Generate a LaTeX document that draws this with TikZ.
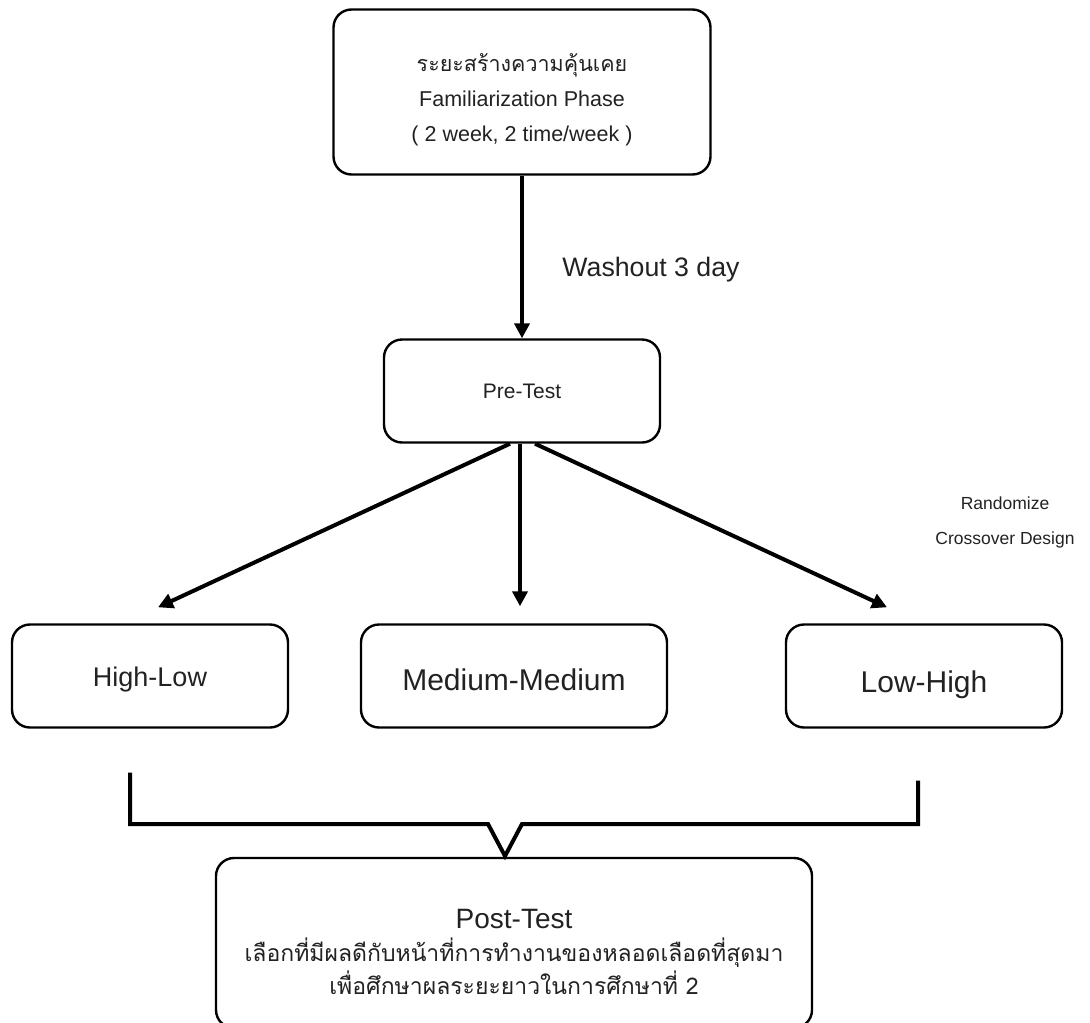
\documentclass[tikz,border=0pt]{standalone}
\usepackage{fontspec}
\setmainfont{Liberation Sans}
\newfontfamily\thaifont[Script=Thai]{Loma}
\usetikzlibrary{arrows.meta, positioning}
\definecolor{inkgray}{HTML}{222222}
\tikzset{
  phase/.style={draw=black, line width=2.4pt, rounded corners=18pt, fill=white,
                text=inkgray, align=center, inner sep=0pt},
  arm/.style={phase, minimum width=276pt, minimum height=103pt, text depth=0pt},
  flow/.style={draw=black, line width=4pt, -{Triangle[length=15pt, width=15pt]}},
  brace/.style={draw=black, line width=4pt, line join=miter},
  note/.style={text=inkgray, inner sep=0pt, align=center},
}

\begin{document}
\begin{tikzpicture}[x=1pt, y=-1pt]
\useasboundingbox (0,0) rectangle (1090,1023);
\node[phase, minimum width=377pt, minimum height=165pt,
      font=\fontsize{21.5}{35}\selectfont] (fam) at (522,92)
  {\rule{0pt}{34pt}{\thaifont ระยะสร้างความคุ้นเคย}\\Familiarization Phase\\( 2 week, 2 time/week )};
\node[phase, minimum width=276pt, minimum height=103pt,
      font=\fontsize{21}{25}\selectfont] (pre) at (522,391) {Pre-Test};
\node[note, font=\fontsize{26.7}{32}\selectfont] (wash) at (651,270) {Washout 3 day};
\node[note, font=\fontsize{17.5}{35}\selectfont] (rand) at (1005,522) {Randomize\\Crossover Design};
\node[arm, text height=21pt, font=\fontsize{27}{32}\selectfont] (hl) at (150,676) {High-Low};
\node[arm, text height=29pt, minimum width=306pt, font=\fontsize{30}{36}\selectfont] (mm) at (514,676) {Medium-Medium};
\node[arm, text height=33pt, font=\fontsize{30}{36}\selectfont] (lh) at (924,676) {Low-High};
\node[phase, minimum width=596pt, minimum height=170pt,
      font=\fontsize{28}{33}\selectfont] (post) at (514,943)
  {\rule{0pt}{37.5pt}Post-Test\\{\thaifont\fontsize{23}{33}\selectfont เลือกที่มีผลดีกับหน้าที่การทำงานของหลอดเลือดที่สุดมา}\\{\thaifont\fontsize{23}{33}\selectfont เพื่อศึกษาผลระยะยาวในการศึกษาที่ 2}};
% connectors
\draw[flow] (fam) -- (pre);
\draw[flow] ([xshift=-12pt]pre.south) -- ([xshift=8pt,yshift=16pt]hl.north);
\draw[flow] ([xshift=-2pt]pre.south) -- ([xshift=6pt,yshift=17pt]mm.north);
\draw[flow] ([xshift=13pt]pre.south) -- ([xshift=-37pt,yshift=16pt]lh.north);
% bracket into post-test
\coordinate (bl) at (488,824);
\coordinate (tip) at (505,856);
\coordinate (br) at (522,824);
\draw[brace] ([xshift=-20pt,yshift=-44pt]hl.south) |- (bl) -- (tip) -- (br)
  -| ([xshift=-6pt,yshift=-52pt]lh.south);
\end{tikzpicture}
\end{document}
